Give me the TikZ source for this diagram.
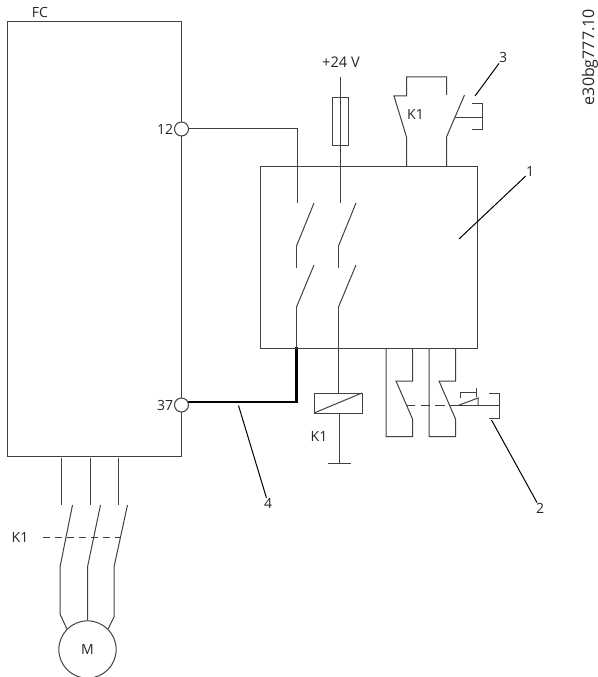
\documentclass[tikz,border=0pt]{standalone}
\usepackage{fontspec}
\usetikzlibrary{positioning}
\setmainfont{Open Sans}
\tikzset{
	wire/.style={line width=.75pt,draw=black!75},
	lbl/.style={font=\fontsize{10.5}{12}\selectfont,text=black!85,inner sep=0pt},
	term/.style={circle,draw=black!75,fill=white,line width=.75pt,minimum size=10.5pt,inner sep=0pt}
}
\begin{document}
\begin{tikzpicture}[x=.75pt,y=-.75pt]
	\useasboundingbox (0,0) rectangle (598,677);
	% drive
	\draw[wire] (7,22) rectangle (181,456);
	\node[lbl] (fc) at (40,13) {FC};
	\draw[wire] (181,129) -- (297,129) -- (297,203);
	\node[term] (t12) at (181.5,129) {};
	\node[lbl,left=.5pt of t12] (n12) {12};
	\draw[line width=2.2pt] (188,402) -- (296.5,402) -- (296.5,347);
	\node[term] (t37) at (181.5,405) {};
	\node[lbl,left=.5pt of t37] (n37) {37};
	% safety relay
	\draw[wire] (260,167) rectangle (477,348);
	\draw[wire] (296.5,246) -- (314,203);
	\draw[wire] (296.5,246) -- (296.5,268);
	\draw[wire] (296.5,307) -- (314,265);
	\draw[wire] (296.5,307) -- (296.5,348);
	\draw[wire] (340,77) -- (340,203);
	\draw[wire] (332,98) rectangle (348,146);
	\node[lbl,font=\fontsize{11}{13}\selectfont] (v24) at (341,62) {+24 V};
	\draw[wire] (338.5,246) -- (356,203);
	\draw[wire] (338.5,246) -- (338.5,268);
	\draw[wire] (338.5,307) -- (356,265);
	\draw[wire] (338.5,307) -- (338.5,393);
	% coil
	\draw[wire] (314,393) rectangle (362,413);
	\draw[wire] (314,413) -- (362,393);
	\draw[wire] (339,413) -- (339,463);
	\draw[wire] (328,463) -- (351,463);
	\node[lbl] (k1b) at (319,436) {K1};
	% feedback and reset
	\draw[wire] (446.5,167) -- (446.5,137) -- (464.5,95);
	\draw[wire] (406.5,167) -- (406.5,137) -- (394,96) -- (406.5,96) -- (406.5,77) -- (446.5,77) -- (446.5,95);
	\node[lbl] (k1t) at (415.5,115) {K1};
	\draw[wire] (455,118) -- (482.5,118);
	\draw[wire] (471.5,103.5) -- (482.5,103.5) -- (482.5,129.5) -- (471.5,129.5);
	% e-stop
	\draw[wire] (386,348) -- (386,436.5) -- (412.5,436.5) -- (412.5,419) -- (396,381) -- (412.5,381) -- (412.5,348);
	\draw[wire] (429,348) -- (429,436.5) -- (455.5,436.5) -- (455.5,419) -- (439,381) -- (455.5,381) -- (455.5,348);
	\draw[wire,dash pattern=on 7pt off 4pt] (406,405.5) -- (449,405.5);
	\draw[wire] (449,405.5) -- (499,405.5);
	\draw[wire] (458,405.5) -- (478,398) -- (478,405.5);
	\draw[wire] (460,398) -- (460,392) -- (476,392);
	\draw[wire] (476,388) -- (476,397);
	\draw[wire] (489,393.5) -- (499,393.5) -- (499,418) -- (489,418);
	% motor
	\draw[wire] (61.5,458) -- (61.5,505);
	\draw[wire] (90.5,458) -- (90.5,505);
	\draw[wire] (118,458) -- (118,505);
	\node[wire,draw,circle,minimum size=43pt,inner sep=0pt,font=\fontsize{10.5}{12}\selectfont,text=black!85] (motor) at (87.5,649.5) {M};
	\draw[wire] (72.5,505) -- (60,567) -- (60,614) -- (motor.135);
	\draw[wire] (100.5,505) -- (87.5,567) -- (motor.north);
	\draw[wire] (127.5,505) -- (114,567) -- (114,617) -- (motor.45);
	\draw[wire,dash pattern=on 5pt off 4pt] (43,537) -- (121,537);
	\node[lbl] (k1m) at (20,537) {K1};
	% callouts
	\node[lbl] (c1) at (530,172) {1};
	\node[lbl] (c2) at (540,508) {2};
	\node[lbl] (c3) at (503,58) {3};
	\node[lbl] (c4) at (268,503) {4};
	\coordinate (p1) at (459,239);
	\coordinate (p2) at (491.5,420);
	\coordinate (p3) at (475,96);
	\coordinate (p4) at (238.5,405.5);
	\draw[line width=.75pt] (p1) -- (c1);
	\draw[line width=.75pt] (p2) -- (c2);
	\draw[line width=.75pt] (p3) -- (c3);
	\draw[line width=.75pt] (p4) -- (c4);
	\node[lbl,rotate=90,anchor=east,font=\fontsize{12}{14}\selectfont] (code) at (590,9) {e30bg777.10};
\end{tikzpicture}
\end{document}
